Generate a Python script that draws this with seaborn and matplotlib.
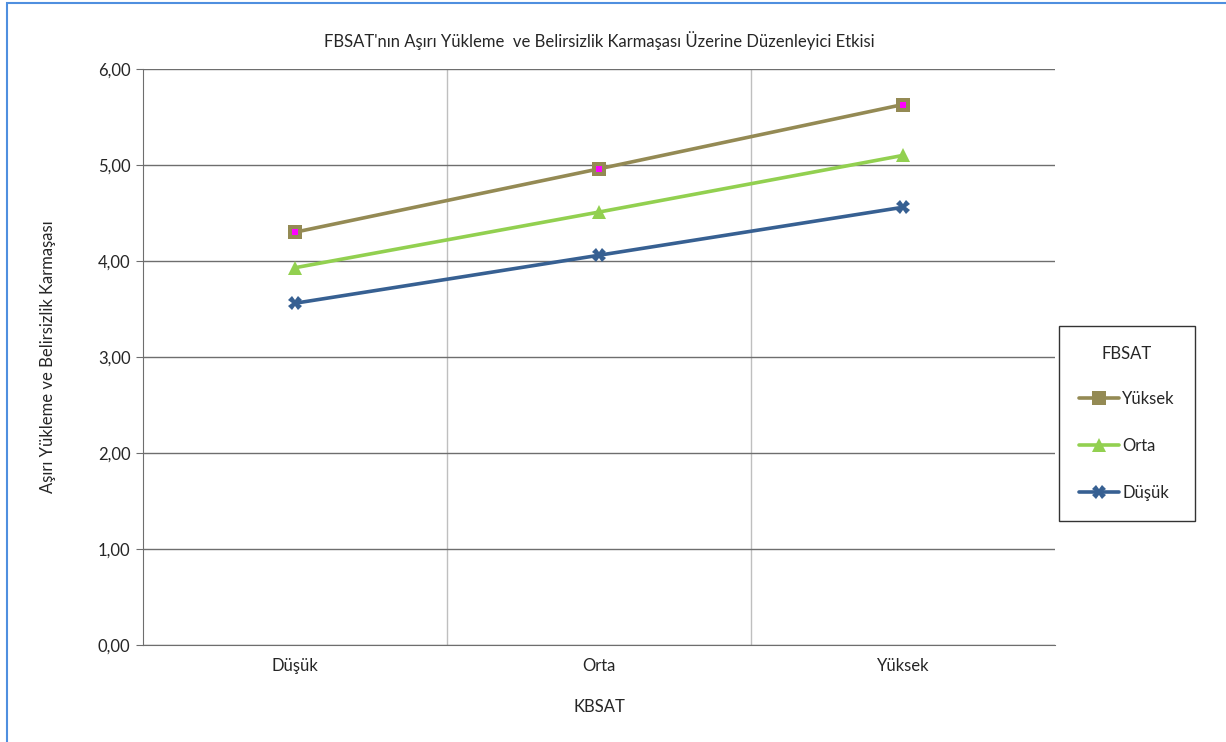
import numpy as np
import pandas as pd
import seaborn as sns
import matplotlib.pyplot as plt
from matplotlib.ticker import FuncFormatter, FixedLocator
from matplotlib.lines import Line2D
from matplotlib.patches import Rectangle

kbsat = ["Düşük", "Orta", "Yüksek"]
fbsat = ["Yüksek", "Orta", "Düşük"]
yuksek = [4.30, 4.96, 5.63]
orta = [3.93, 4.51, 5.10]
dusuk = [3.56, 4.06, 4.56]

colors = {"Yüksek": "#948A54", "Orta": "#92D050", "Düşük": "#376092"}
markers = {"Yüksek": "s", "Orta": "^", "Düşük": "X"}

df = pd.DataFrame({
    "KBSAT": kbsat * 3,
    "x": [0, 1, 2] * 3,
    "FBSAT": ["Yüksek"] * 3 + ["Orta"] * 3 + ["Düşük"] * 3,
    "val": yuksek + orta + dusuk,
})

sns.set_style("white")
plt.rcParams["font.family"] = ["Lato", "DejaVu Sans"]

fig = plt.figure(figsize=(12.26, 7.42), dpi=100)
ax = fig.add_axes([143 / 1226, 1 - 645 / 742, (1055 - 143) / 1226, (645 - 69) / 742])

sns.lineplot(data=df, x="x", y="val", hue="FBSAT", style="FBSAT",
             hue_order=fbsat, style_order=fbsat, palette=colors,
             markers=markers, dashes=False, lw=2.6, markersize=10,
             markeredgewidth=0, legend=False, ax=ax, zorder=3)

# magenta centre of the square markers
top = df[df.FBSAT == "Yüksek"]
ax.scatter(top.x, top.val, marker="s", s=16, color="#FF00FF", zorder=5, linewidths=0)

ax.set_xlim(-0.5, 2.5)
ax.set_ylim(0, 6)
ax.set_xticks([0, 1, 2])
ax.set_xticklabels(kbsat)
ax.xaxis.set_minor_locator(FixedLocator([0.5, 1.5]))
ax.set_yticks(np.arange(0, 7, 1))
ax.yaxis.set_major_formatter(FuncFormatter(lambda v, p: f"{v:.2f}".replace(".", ",")))

ax.grid(axis="y", which="major", color="#6E6E6E", lw=1.0)
ax.grid(axis="x", which="minor", color="#BFBFBF", lw=1.0)
ax.grid(axis="x", which="major", visible=False)
ax.set_axisbelow(True)

for s in ["top", "right"]:
    ax.spines[s].set_visible(False)
ax.spines["left"].set_color("#6E6E6E")
ax.spines["bottom"].set_color("#6E6E6E")
ax.tick_params(axis="y", which="major", left=True, length=5, color="#6E6E6E",
               labelsize=12, pad=4)
ax.tick_params(axis="x", which="both", bottom=False, labelsize=12, pad=6)

ax.set_xlabel("KBSAT", fontsize=12, labelpad=18)
ax.set_ylabel("Aşırı Yükleme ve Belirsizlik Karmaşası", fontsize=12, labelpad=30)
fig.text(599 / 1226, 1 - 41 / 742, "FBSAT'nın Aşırı Yükleme  ve Belirsizlik Karmaşası Üzerine Düzenleyici Etkisi",
         ha="center", va="center", fontsize=12)

handles = [Line2D([], [], color=colors[k], marker=markers[k], lw=2.6, markersize=10,
                  markeredgewidth=0) for k in fbsat]
leg = fig.legend(handles, fbsat, title="FBSAT", loc="upper left",
                 bbox_to_anchor=(1059 / 1226, 1 - 326 / 742), fontsize=12,
                 title_fontsize=12, frameon=True, fancybox=False, handlelength=2.4,
                 handletextpad=0.2, labelspacing=1.85, borderpad=1.2,
                 borderaxespad=0)
leg._legend_box.sep = 21
leg.get_frame().set_edgecolor("black")
leg.get_frame().set_linewidth(1.0)

fig.patches.append(Rectangle((7 / 1226, -0.1), 1.2, 1 - 3 / 742 + 0.1,
                             transform=fig.transFigure, fill=False,
                             edgecolor="#4F8FDF", lw=1.5))

fig.savefig("out.png", dpi=100)
